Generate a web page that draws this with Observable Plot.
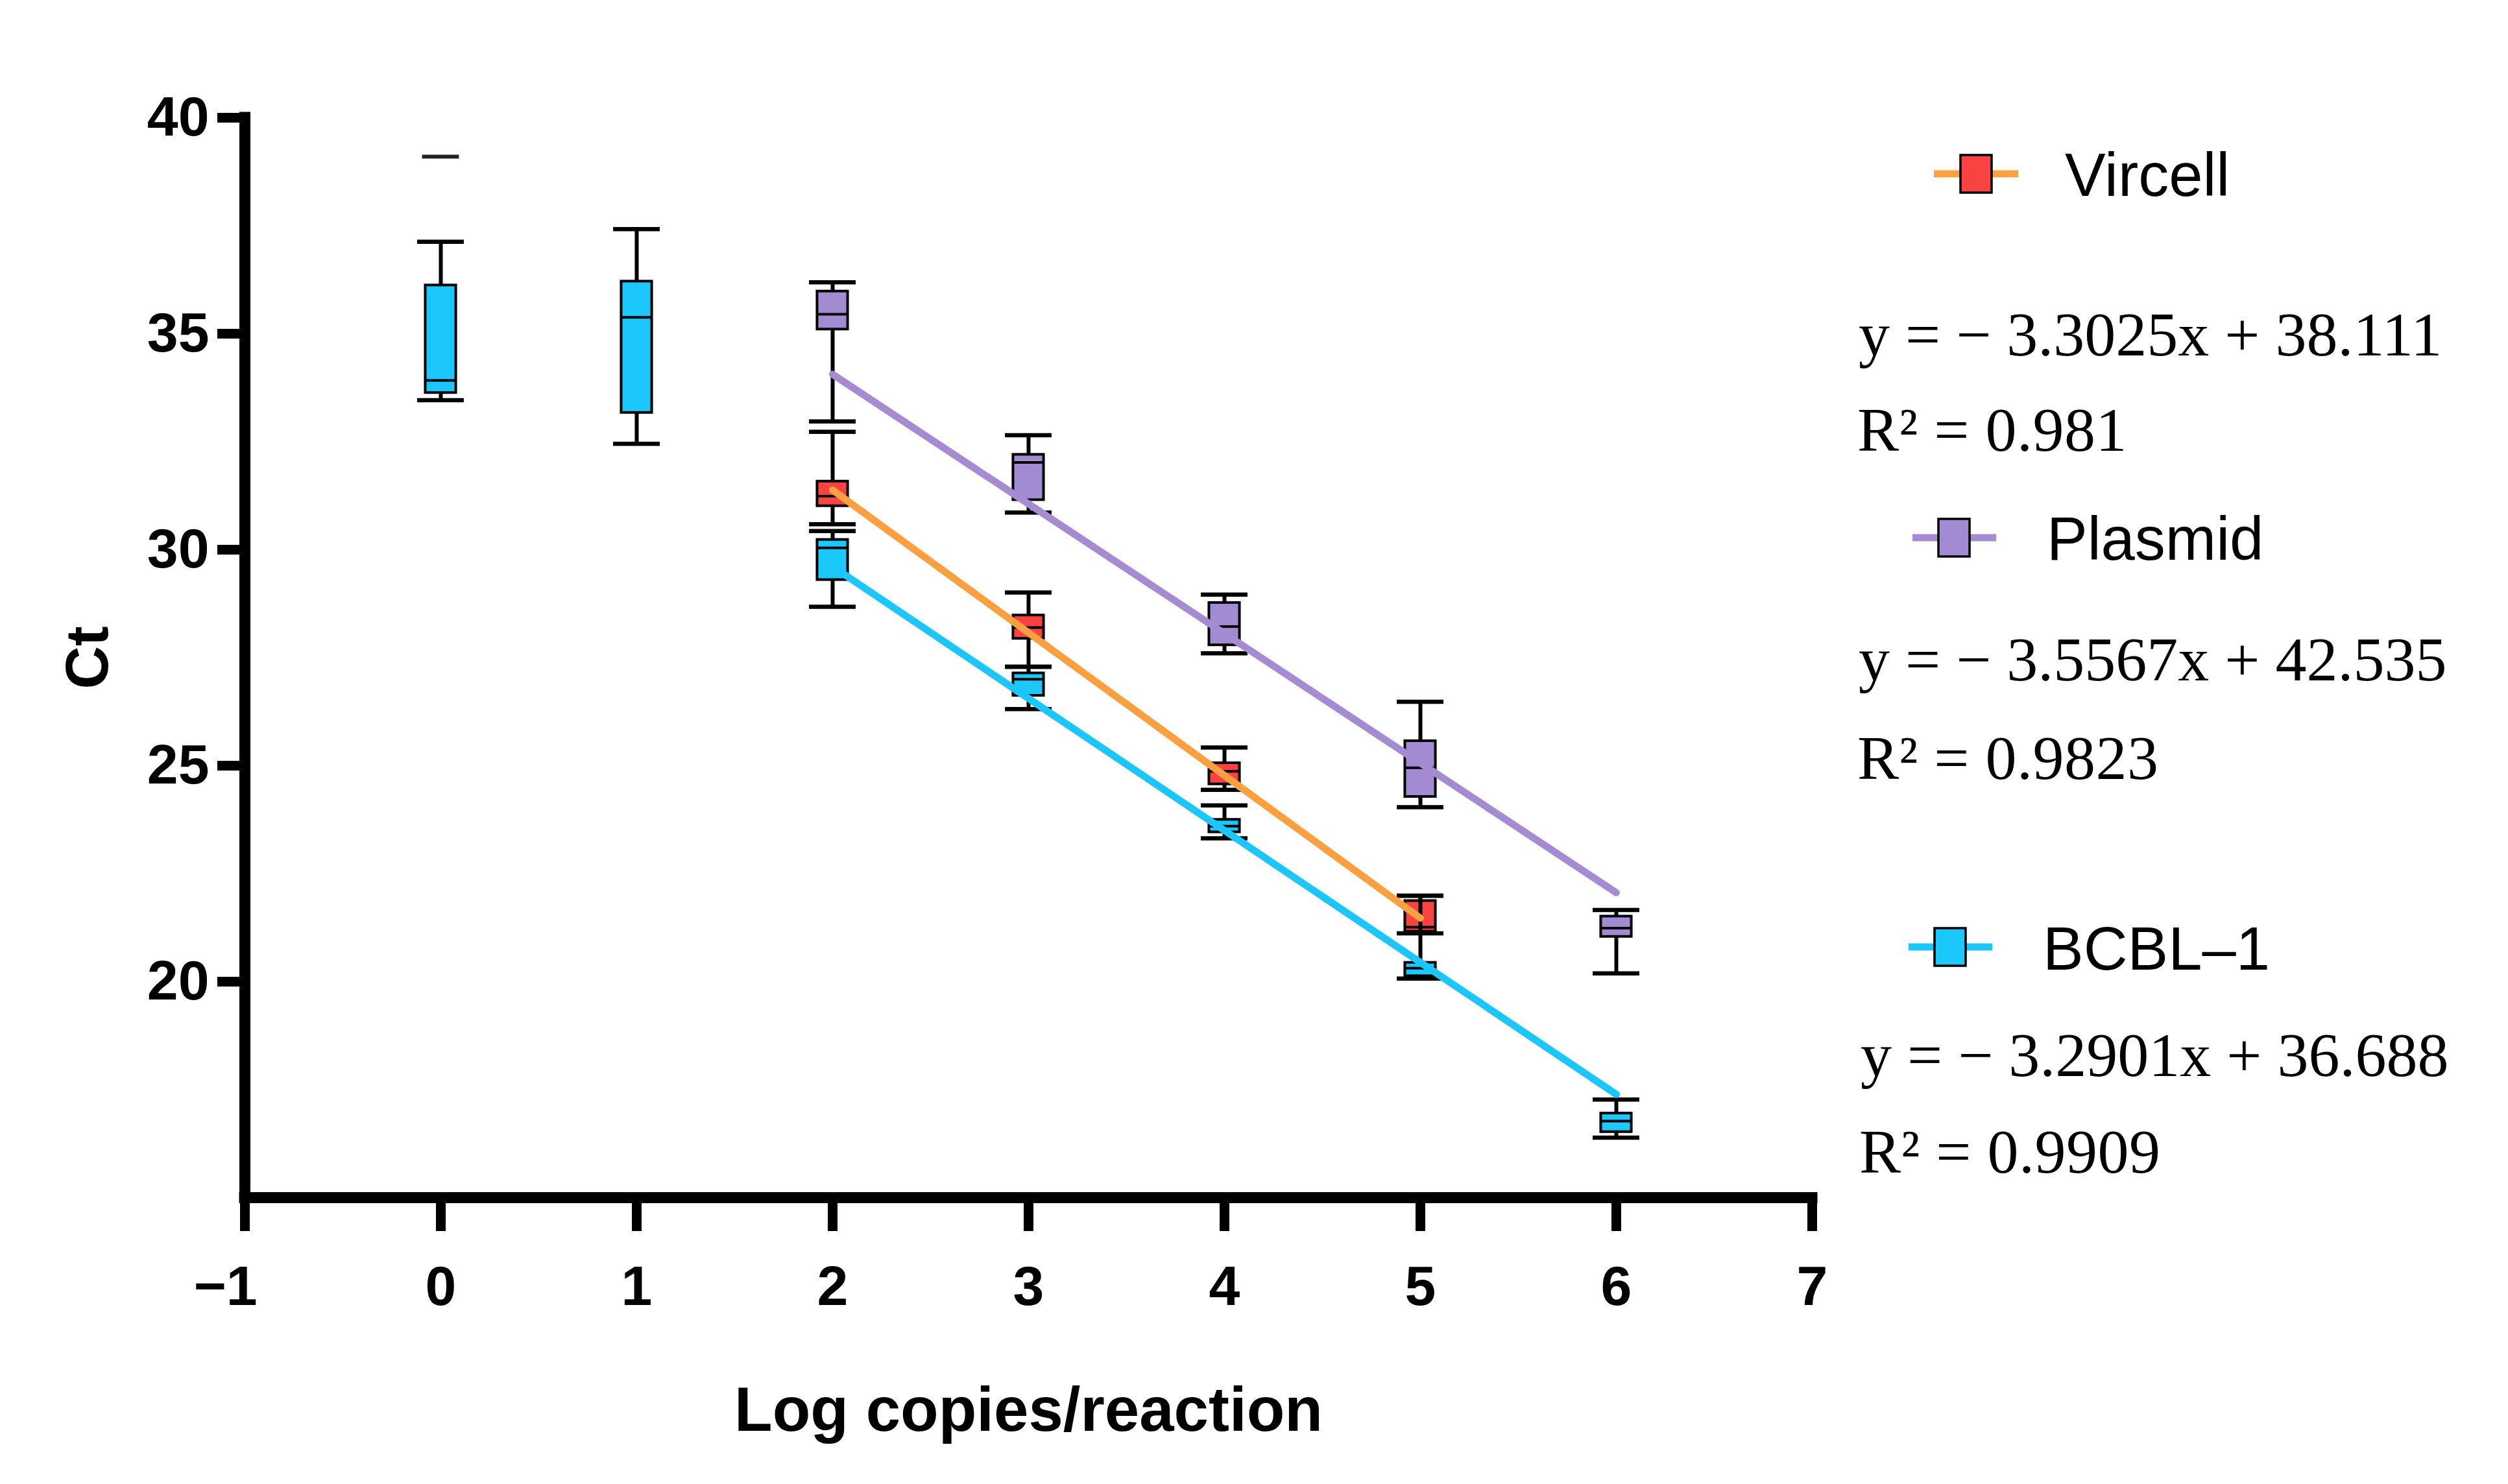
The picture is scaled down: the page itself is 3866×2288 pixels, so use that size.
<!DOCTYPE html>
<html><head><meta charset="utf-8">
<script src="https://cdn.jsdelivr.net/npm/d3@7"></script>
<script src="https://cdn.jsdelivr.net/npm/@observablehq/plot@0.6"></script>
<style>
html,body{margin:0;padding:0;background:#fff;}
#chart{position:relative;width:3866px;height:2288px;}
#chart svg{position:absolute;left:0;top:0;}
</style></head><body><div id="chart"></div>
<script>
// ---------- data ----------
const xTicks = [-1, 0, 1, 2, 3, 4, 5, 6, 7];
const yTicks = [20, 25, 30, 35, 40];

const seriesNames = ["Plasmid", "Vircell", "BCBL-1"];
const boxColors   = ["#A38BD3", "#F94343", "#1CC7FC"];
const lineColors  = ["#A48BD2", "#FBA040", "#1DC6FA"];

const plasmidX   = [2, 3, 4, 5, 6];
const plasmidMin = [32.97, 30.86, 27.60, 24.04, 20.19];
const plasmidQ1  = [35.10, 31.15, 27.79, 24.28, 21.04];
const plasmidMed = [35.45, 32.02, 28.22, 24.95, 21.24];
const plasmidQ3  = [35.98, 32.20, 28.77, 25.57, 21.51];
const plasmidMax = [36.19, 32.65, 28.96, 26.48, 21.66];

const vircellX   = [2, 3, 4, 5];
const vircellMin = [30.59, 27.29, 24.44, 21.12];
const vircellQ1  = [31.01, 27.94, 24.57, 21.16];
const vircellMed = [31.24, 28.20, 24.87, 21.26];
const vircellQ3  = [31.58, 28.48, 25.06, 21.87];
const vircellMax = [32.73, 29.01, 25.42, 21.99];

const bcblX   = [0, 1, 2, 3, 4, 5, 6];
const bcblMin = [33.46, 32.45, 28.68, 26.31, 23.32, 20.07, 16.39];
const bcblQ1  = [33.63, 33.17, 29.30, 26.62, 23.46, 20.13, 16.52];
const bcblMed = [33.92, 35.38, 30.04, 27.00, 23.60, 20.31, 16.77];
const bcblQ3  = [36.12, 36.21, 30.23, 27.14, 23.75, 20.44, 16.95];
const bcblMax = [37.13, 37.42, 30.43, 27.29, 24.08, 21.99, 17.27];

// a lone whisker cap above the x = 0 box
const loneCapX = [0];
const loneCapY = [39.10];

// fitted lines (end points)
const fitSeries = ["Vircell", "Vircell", "Plasmid", "Plasmid", "BCBL-1", "BCBL-1"];
const fitX      = [2, 5, 2, 6, 2, 6];
const fitY      = [31.38, 21.47, 34.06, 22.06, 29.61, 17.39];

// legend texts
const legendNames = ["Vircell", "Plasmid", "BCBL–1"];
const legendBox   = ["#F94343", "#A38BD3", "#1CC7FC"];
const legendLine  = ["#FBA040", "#A48BD2", "#1DC6FA"];
const eqTexts = ["y = − 3.3025x + 38.111", "y = − 3.5567x + 42.535", "y = − 3.2901x + 36.688"];
const r2Texts = ["R² = 0.981", "R² = 0.9823", "R² = 0.9909"];

// ---------- tables ----------
function rowsOf(name, xs, mn, q1, md, q3, mx) {
  return xs.map((x, i) => ({series: name, x, min: mn[i], q1: q1[i], med: md[i], q3: q3[i], max: mx[i]}));
}
const seriesRows = {
  "Plasmid": rowsOf("Plasmid", plasmidX, plasmidMin, plasmidQ1, plasmidMed, plasmidQ3, plasmidMax),
  "Vircell": rowsOf("Vircell", vircellX, vircellMin, vircellQ1, vircellMed, vircellQ3, vircellMax),
  "BCBL-1":  rowsOf("BCBL-1", bcblX, bcblMin, bcblQ1, bcblMed, bcblQ3, bcblMax)
};
const fitRows = fitX.map((x, i) => ({series: fitSeries[i], x, y: fitY[i]}));
const loneRows = loneCapX.map((x, i) => ({x, y: loneCapY[i]}));

const boxHalf = 0.078;   // in x units
const capHalf = 0.119;
const loneHalf = 0.094;

const fillOf = s => boxColors[seriesNames.indexOf(s)];
const intFmt = d3.format("d");

function boxMarks(rows) {
  return [
    Plot.ruleX(rows, {x: "x", y1: "min", y2: "max", stroke: "black", strokeWidth: 6}),
    Plot.ruleY(rows, {y: "min", x1: d => d.x - capHalf, x2: d => d.x + capHalf, stroke: "black", strokeWidth: 6.5}),
    Plot.ruleY(rows, {y: "max", x1: d => d.x - capHalf, x2: d => d.x + capHalf, stroke: "black", strokeWidth: 6.5}),
    Plot.rect(rows, {x1: d => d.x - boxHalf, x2: d => d.x + boxHalf, y1: "q1", y2: "q3",
      fill: d => fillOf(d.series), stroke: "black", strokeWidth: 4}),
    Plot.ruleY(rows, {y: "med", x1: d => d.x - boxHalf, x2: d => d.x + boxHalf, stroke: "black", strokeWidth: 4})
  ];
}

const W = 3866, H = 2288;
const chart = Plot.plot({
  width: W, height: H,
  marginLeft: 377, marginRight: 1073, marginTop: 181, marginBottom: 442,
  x: {domain: [-1, 7]},
  y: {domain: [15, 40]},
  color: {domain: ["Plasmid", "Vircell", "BCBL-1"], range: lineColors},
  style: {fontFamily: "'Liberation Sans', Arial, sans-serif", color: "black", background: "white", overflow: "visible"},
  marks: [
    ...boxMarks(seriesRows["Plasmid"]),
    ...boxMarks(seriesRows["Vircell"]),
    ...boxMarks(seriesRows["BCBL-1"]),
    Plot.ruleY(loneRows, {y: "y", x1: d => d.x - loneHalf, x2: d => d.x + loneHalf, stroke: "#222", strokeWidth: 6}),
    Plot.line(fitRows, {x: "x", y: "y", z: "series", stroke: "series", strokeWidth: 11}),
    Plot.axisY(yTicks, {tickSize: 42, tickPadding: 13, strokeWidth: 15, fontSize: 86, fontWeight: "bold", label: null, tickFormat: intFmt}),
    // x ticks; the negative label is set apart so that its digit sits under the tick
    Plot.axisX(xTicks, {tickSize: 52, tickPadding: 52, strokeWidth: 15, fontSize: 86, fontWeight: "bold", label: null,
      tickFormat: d => d < 0 ? "" : intFmt(d)}),
    Plot.axisX(xTicks.filter(d => d < 0), {tickSize: 0, tickPadding: 104, dx: -30, fontSize: 86, fontWeight: "bold", label: null, tickFormat: intFmt}),
    Plot.ruleX([-1], {y1: 15, y2: 40, stroke: "black", strokeWidth: 17, strokeLinecap: "square"}),
    Plot.ruleY([15], {x1: -1, x2: 7, stroke: "black", strokeWidth: 17, strokeLinecap: "square"}),
    Plot.text(["Ct"], {frameAnchor: "left", dx: -241, rotate: -90, fontSize: 92, fontWeight: "bold", textAnchor: "middle", lineAnchor: "middle"}),
    Plot.text(["Log copies/reaction"], {frameAnchor: "bottom", dy: 329, fontSize: 96, fontWeight: "bold", textAnchor: "middle", lineAnchor: "middle"})
  ]
});
document.getElementById("chart").appendChild(chart);

// ---------- legend (overlay) ----------
const leg = d3.select("#chart").append("svg")
  .attr("width", W).attr("height", H)
  .style("pointer-events", "none");

const legLayout = [
  {lx1: 2981, lx2: 3111, ly: 268, sx: 3046, tx: 3183, ty: 302, ex: 2865, ey: 548, rx: 2863, ry: 695},
  {lx1: 2948, lx2: 3077, ly: 829, sx: 3012, tx: 3155, ty: 863, ex: 2865, ey: 1049, rx: 2863, ry: 1201},
  {lx1: 2942, lx2: 3071, ly: 1460, sx: 3006, tx: 3149, ty: 1495, ex: 2868, ey: 1659, rx: 2866, ry: 1808}
];
legLayout.forEach((p, i) => {
  leg.append("line").attr("x1", p.lx1).attr("x2", p.lx2).attr("y1", p.ly).attr("y2", p.ly)
    .attr("stroke", legendLine[i]).attr("stroke-width", 11);
  leg.append("rect").attr("x", p.sx - 24).attr("y", p.ly - 29).attr("width", 48).attr("height", 58)
    .attr("fill", legendBox[i]).attr("stroke", "black").attr("stroke-width", 3.5);
  leg.append("text").attr("x", p.tx).attr("y", p.ty).text(legendNames[i])
    .attr("font-family", "'Liberation Sans', Arial, sans-serif").attr("font-size", 94).attr("fill", "black");
  leg.append("text").attr("x", p.ex).attr("y", p.ey).text(eqTexts[i])
    .attr("font-family", "'Liberation Serif', 'Times New Roman', serif").attr("font-size", 96)
    .attr("fill", "black");
  leg.append("text").attr("x", p.rx).attr("y", p.ry).text(r2Texts[i])
    .attr("font-family", "'Liberation Serif', 'Times New Roman', serif").attr("font-size", 96)
    .attr("letter-spacing", "0.5px").attr("fill", "black");
});
</script>
</body></html>
